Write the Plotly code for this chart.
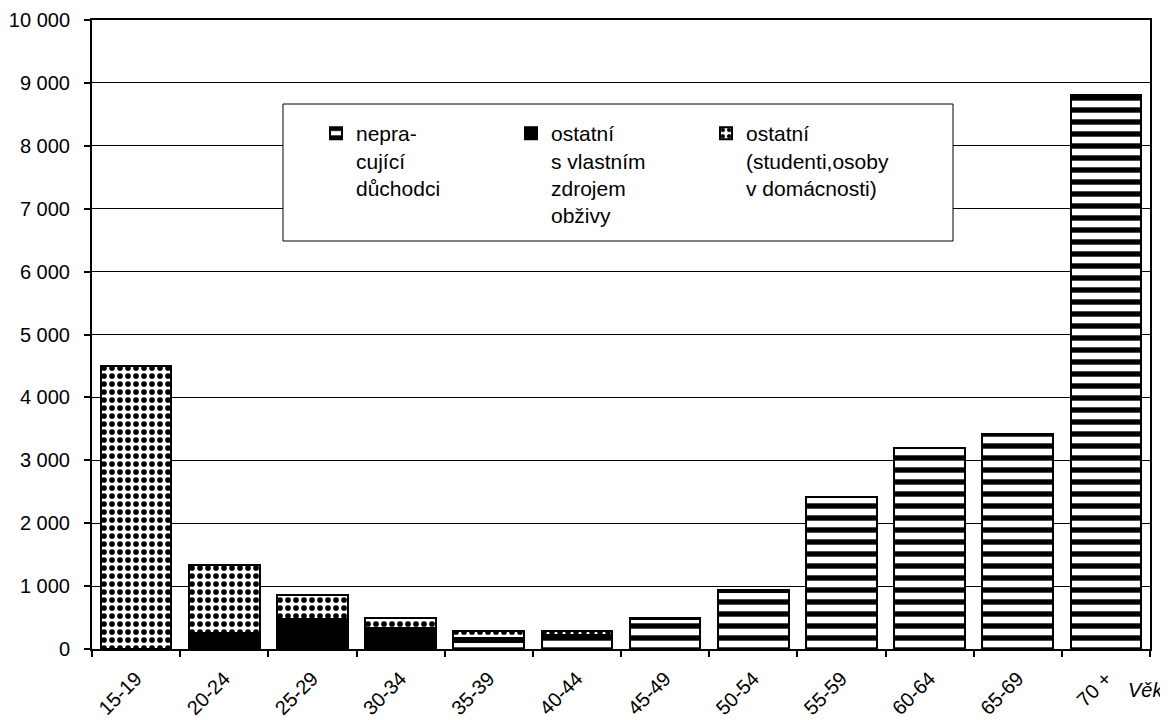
import plotly.graph_objects as go

categories = ["15-19", "20-24", "25-29", "30-34", "35-39", "40-44",
              "45-49", "50-54", "55-59", "60-64", "65-69", "70 +"]

duchodci = [0, 0, 0, 0, 110, 160, 470, 900, 2420, 3190, 3420, 8800]
ostatni_vlastni = [0, 250, 480, 330, 70, 70, 0, 0, 0, 0, 0, 0]
ostatni_studenti = [4500, 1080, 380, 170, 100, 60, 30, 40, 0, 0, 0, 0]

names = ["nepra-<br>cující<br>důchodci",
         "ostatní<br>s vlastním<br>zdrojem<br>obživy",
         "ostatní<br>(studenti,osoby<br>v domácnosti)"]

y_ticks = list(range(0, 10001, 1000))

FONT = "Liberation Sans, Arial, sans-serif"

fig = go.Figure()
fig.add_trace(go.Bar(
    x=categories, y=duchodci, name=names[0],
    marker=dict(color="white", line=dict(color="black", width=2),
                pattern=dict(shape="-", fgcolor="black", bgcolor="white",
                             fgopacity=1, size=12, solidity=0.45, fillmode="replace")),
))
fig.add_trace(go.Bar(
    x=categories, y=ostatni_vlastni, name=names[1],
    marker=dict(color="black", line=dict(color="black", width=2)),
))
fig.add_trace(go.Bar(
    x=categories, y=ostatni_studenti, name=names[2],
    marker=dict(color="white", line=dict(color="black", width=2),
                pattern=dict(shape=".", fgcolor="black", bgcolor="white",
                             fgopacity=1, size=8, solidity=0.4, fillmode="replace")),
))

# page has an 8px body margin; figure coordinates are page coordinates minus 8
OFF = 8
W, H = 1168 - OFF, 720 - OFF
PL, PR, PT, PB = 92, 1150, 20, 649   # plot area in page pixels
L = PL - OFF
T = PT - OFF
R = W - (PR - OFF)
B = H - (PB - OFF)
pw = PR - PL
ph = PB - PT

def px_x(x):
    return (x - PL) / pw

def px_y(y):
    return (PB - y) / ph

fig.add_shape(type="rect", xref="paper", yref="paper",
              x0=px_x(283), x1=px_x(953), y0=px_y(241), y1=px_y(104),
              line=dict(color="black", width=1), fillcolor="white", layer="above")

fig.add_annotation(text="<i>Věk</i>", xref="paper", yref="paper",
                   x=px_x(1165), y=px_y(690), xanchor="right", yanchor="middle",
                   showarrow=False, font=dict(family=FONT, size=20, color="black"))

fig.update_layout(
    width=W, height=H,
    margin=dict(l=L, r=R, t=T, b=B, pad=0, autoexpand=False),
    paper_bgcolor="white", plot_bgcolor="white",
    barmode="stack", bargap=0.2,
    separators=", ",
    font=dict(family=FONT, size=20, color="black"),
    showlegend=True,
    legend=dict(orientation="h", x=px_x(316), y=px_y(113), xanchor="left", yanchor="top",
                bgcolor="rgba(0,0,0,0)", borderwidth=0, traceorder="normal",
                valign="top", entrywidth=150, entrywidthmode="pixels",
                font=dict(family=FONT, size=21, color="black"),
                itemsizing="constant"),
    xaxis=dict(type="category", showline=True, linecolor="black", linewidth=2,
               mirror=True, ticks="outside", tickson="boundaries", ticklen=6,
               tickcolor="black", tickwidth=2, tickangle=-45, showgrid=False,
               automargin=False, ticklabelstandoff=8,
               tickfont=dict(family=FONT, size=20, color="black")),
    yaxis=dict(range=[0, 10000], tickvals=y_ticks, tickformat=",d",
               showline=True, linecolor="black", linewidth=2, mirror=True,
               ticks="outside", ticklen=6, tickcolor="black", tickwidth=2,
               showgrid=True, gridcolor="black", gridwidth=1, zeroline=False,
               automargin=False, ticklabelstandoff=10,
               tickfont=dict(family=FONT, size=20, color="black")),
)

fig.write_html("out.html")
